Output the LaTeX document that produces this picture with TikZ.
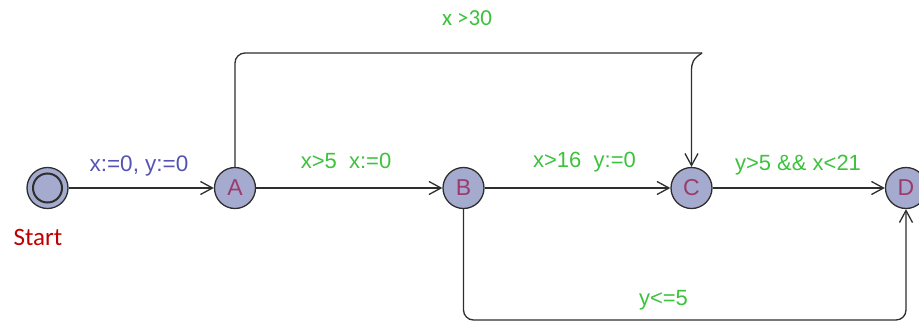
\documentclass[tikz,border=0pt]{standalone}
\usepackage{fontspec}
\setmainfont{Liberation Sans}
\newfontfamily\calib{Carlito}
\usetikzlibrary{arrows.meta}
\definecolor{nodefill}{HTML}{A5ABCE}
\definecolor{nodeline}{HTML}{2E2E2E}
\definecolor{lettercol}{HTML}{9C3B6C}
\definecolor{guardgreen}{HTML}{3CC23C}
\definecolor{assignblue}{HTML}{5454B4}
\definecolor{startred}{HTML}{C00000}
\newcommand{\loclbl}[1]{\raisebox{-3pt}{#1}}
\begin{document}
\begin{tikzpicture}[x=1pt,y=-1pt,
  loc/.style={circle,draw=nodeline,fill=nodefill,line width=1.3pt,minimum size=41pt,inner sep=0pt,
    text=lettercol,font=\fontsize{23}{24}\selectfont},
  edge/.style={draw=nodeline,line width=1.3pt,-{Straight Barb[length=12pt,width=13pt,line width=1.3pt]}},
  guard/.style={text=guardgreen,font=\fontsize{22}{24}\selectfont,inner sep=0pt},
  assign/.style={text=assignblue,font=\fontsize{22.5}{24}\selectfont,inner sep=0pt}]
\useasboundingbox (0,0) rectangle (919,322);
% locations
\node[loc] (S) at (47.5,188) {};
\node[circle,draw=nodeline,line width=2pt,minimum size=29pt,inner sep=0pt] (Sin) at (S.center) {};
\node[loc] (A) at (235,188) {\loclbl{A}};
\node[loc] (B) at (463.5,188) {\loclbl{B}};
\node[loc] (C) at (691.5,188) {\loclbl{C}};
\node[loc] (D) at (906,188) {\loclbl{D}};
\node[text=startred,font=\calib\fontsize{25}{28}\selectfont,inner sep=0pt] (startlbl) at (38,237) {Start};
% helper coordinates
\coordinate (tl) at (235,53);
\coordinate (tr) at (702,53);
\coordinate (trd) at (691.5,72);
\coordinate (bot) at (680,320);
% edges
\draw[edge] (S) -- (A);
\draw[edge] (A) -- (B);
\draw[edge] (B) -- (C);
\draw[edge] (C) -- (D);
\draw[draw=nodeline,line width=1.3pt,rounded corners=10pt] (A.north) -- (tl) -- (tr);
\draw[edge] (tr) .. controls (693,59) and (691.5,62) .. (trd) -- (C.north);
\draw[edge,rounded corners=10pt] (B.south) |- (bot) -| (D.south);
% labels
\node[assign] (l1) at (139,166) {x:=0, y:=0};
\node[guard] (l2) at (346,161) {x>5\ \ x:=0};
\node[guard] (l3) at (584.5,162) {x>16\ \ y:=0};
\node[guard] (l4) at (798,165) {y>5 \&\& x<21};
\node[guard,font=\calib\fontsize{23}{26}\selectfont] (l5) at (467,18) {x >30};
\node[guard] (l6) at (663.5,300) {y<=5};
\end{tikzpicture}
\end{document}
